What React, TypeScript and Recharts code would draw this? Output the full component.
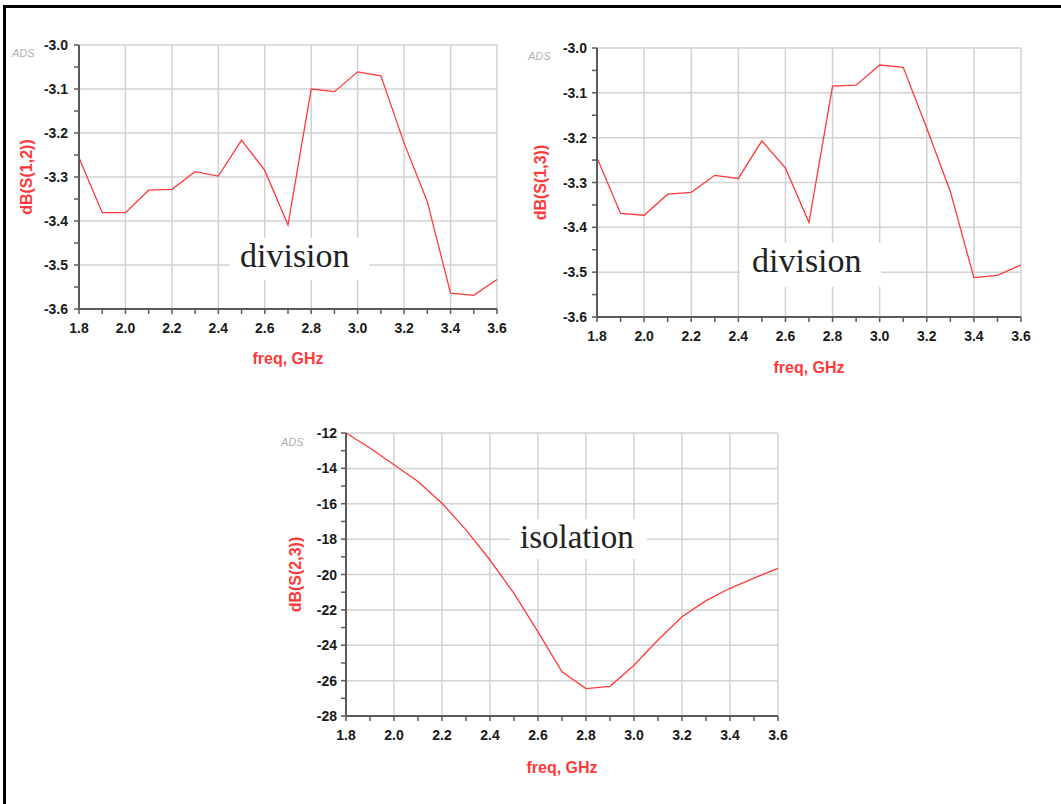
import React from "react";
import {
  LineChart,
  Line,
  XAxis,
  YAxis,
  CartesianGrid,
} from "recharts";

// frequency points, GHz
const freq = [1.8, 1.9, 2.0, 2.1, 2.2, 2.3, 2.4, 2.5, 2.6, 2.7, 2.8, 2.9, 3.0, 3.1, 3.2, 3.3, 3.4, 3.5, 3.6];

// dB(S(1,2))
const s12 = [-3.256, -3.381, -3.381, -3.33, -3.328, -3.288, -3.298, -3.216, -3.285, -3.409, -3.1, -3.106, -3.061, -3.07, -3.223, -3.356, -3.564, -3.569, -3.533];
// dB(S(1,3))
const s13 = [-3.245, -3.369, -3.373, -3.326, -3.322, -3.284, -3.291, -3.207, -3.268, -3.389, -3.085, -3.083, -3.038, -3.043, -3.179, -3.32, -3.512, -3.507, -3.484];
// dB(S(2,3))
const s23 = [-12.0, -12.85, -13.8, -14.74, -15.97, -17.48, -19.18, -21.07, -23.24, -25.5, -26.45, -26.32, -25.13, -23.7, -22.39, -21.48, -20.78, -20.2, -19.65];

const xMajor = [1.8, 2.0, 2.2, 2.4, 2.6, 2.8, 3.0, 3.2, 3.4, 3.6];
const xAll = [1.8, 1.9, 2.0, 2.1, 2.2, 2.3, 2.4, 2.5, 2.6, 2.7, 2.8, 2.9, 3.0, 3.1, 3.2, 3.3, 3.4, 3.5, 3.6];

const yMajorDiv = [-3.6, -3.5, -3.4, -3.3, -3.2, -3.1, -3.0];
const yAllDiv = [-3.6, -3.55, -3.5, -3.45, -3.4, -3.35, -3.3, -3.25, -3.2, -3.15, -3.1, -3.05, -3.0];

const yMajorIso = [-28, -26, -24, -22, -20, -18, -16, -14, -12];
const yAllIso = [-28, -27, -26, -25, -24, -23, -22, -21, -20, -19, -18, -17, -16, -15, -14, -13, -12];

const RED = "#ff3a3a";
const AXIS = "#5a5a5a";
const GRID = "#d2d2d2";
const FONT = "'Liberation Sans', Arial, sans-serif";
const X_DOMAIN: [number, number] = [1.8, 3.6];

const isMajor = (v: number, major: number[]) => major.some((m) => Math.abs(m - v) < 1e-6);

function makeTick(major: number[], fmt: (v: number) => string, axis: "x" | "y") {
  return (props: any) => {
    const { x, y, payload } = props;
    if (!isMajor(payload.value, major)) return <g />;
    return (
      <text
        x={x}
        y={y}
        dy={axis === "x" ? "0.71em" : "0.36em"}
        textAnchor={axis === "x" ? "middle" : "end"}
        fontFamily={FONT}
        fontWeight="bold"
        fontSize={14}
        fill="#1a1a1a"
      >
        {fmt(payload.value)}
      </text>
    );
  };
}

interface PanelProps {
  left: number;
  top: number;
  width: number;
  height: number;
  margin: { top: number; right: number; bottom: number; left: number };
  yWidth: number;
  yTickMargin: number;
  values: number[];
  yLabel: string;
  yLabelOffset: number;
  xLabelOffset: number;
  yDomain: [number, number];
  yMajor: number[];
  yAll: number[];
  yFmt: (v: number) => string;
}

function Panel(p: PanelProps) {
  const data = freq.map((f, i) => ({ f, v: p.values[i] }));

  // grid only on the major ticks
  const vGrid = ({ xAxis, offset }: any) =>
    xMajor.map((v) =>
      typeof xAxis?.scale === "function"
        ? xAxis.scale(v)
        : offset.left + ((v - X_DOMAIN[0]) / (X_DOMAIN[1] - X_DOMAIN[0])) * offset.width
    );
  const hGrid = ({ yAxis, offset }: any) =>
    p.yMajor.map((v) =>
      typeof yAxis?.scale === "function"
        ? yAxis.scale(v)
        : offset.top + ((p.yDomain[1] - v) / (p.yDomain[1] - p.yDomain[0])) * offset.height
    );

  return (
    <div style={{ position: "absolute", left: p.left, top: p.top }}>
      <LineChart width={p.width} height={p.height} data={data} margin={p.margin}>
        <CartesianGrid
          stroke={GRID}
          strokeWidth={1.5}
          verticalCoordinatesGenerator={vGrid}
          horizontalCoordinatesGenerator={hGrid}
        />
        <XAxis
          dataKey="f"
          type="number"
          domain={X_DOMAIN}
          ticks={xAll}
          interval={0}
          height={60}
          tickSize={5}
          tickMargin={9}
          tick={makeTick(xMajor, (v) => v.toFixed(1), "x")}
          tickLine={{ stroke: AXIS, strokeWidth: 1.5 }}
          axisLine={{ stroke: AXIS, strokeWidth: 2 }}
          label={{
            value: "freq, GHz",
            position: "insideBottom",
            offset: p.xLabelOffset,
            fill: RED,
            fontFamily: FONT,
            fontWeight: "bold",
            fontSize: 16,
          }}
        />
        <XAxis
          xAxisId="top"
          orientation="top"
          type="number"
          domain={X_DOMAIN}
          height={0}
          tick={false}
          tickLine={false}
          axisLine={{ stroke: "#9a9a9a", strokeWidth: 2 }}
        />
        <YAxis
          type="number"
          domain={p.yDomain}
          ticks={p.yAll}
          interval={0}
          width={p.yWidth}
          tickSize={5}
          tickMargin={p.yTickMargin}
          tick={makeTick(p.yMajor, p.yFmt, "y")}
          tickLine={{ stroke: AXIS, strokeWidth: 1.5 }}
          axisLine={{ stroke: AXIS, strokeWidth: 2 }}
          label={{
            value: p.yLabel,
            angle: -90,
            position: "insideLeft",
            offset: p.yLabelOffset,
            fill: RED,
            fontFamily: FONT,
            fontWeight: "bold",
            fontSize: 16,
            style: { textAnchor: "middle" },
          }}
        />
        <YAxis
          yAxisId="right"
          orientation="right"
          type="number"
          domain={p.yDomain}
          width={0}
          tick={false}
          tickLine={false}
          axisLine={{ stroke: "#9a9a9a", strokeWidth: 2 }}
        />
        <Line
          type="linear"
          dataKey="v"
          stroke={RED}
          strokeWidth={1.3}
          dot={false}
          isAnimationActive={false}
        />
      </LineChart>
    </div>
  );
}

const adsStyle: React.CSSProperties = {
  position: "absolute",
  fontFamily: FONT,
  fontSize: 11,
  fontStyle: "italic",
  color: "#b0b0b0",
  lineHeight: "11px",
};

const noteStyle: React.CSSProperties = {
  position: "absolute",
  background: "#fff",
  fontFamily: "'Liberation Serif', 'Times New Roman', serif",
  color: "#222",
  lineHeight: "36px",
  whiteSpace: "nowrap",
};

export default function App() {
  return (
    <div
      style={{
        position: "absolute",
        left: 0,
        top: 0,
        width: 1061,
        height: 804,
        background: "#fff",
        overflow: "hidden",
      }}
    >
      <div
        style={{
          position: "absolute",
          left: 3,
          top: 5,
          right: 0,
          bottom: 0,
          borderTop: "3px solid #000",
          borderLeft: "3px solid #000",
        }}
      />

      <Panel
        left={0}
        top={0}
        width={520}
        height={380}
        margin={{ top: 45, right: 23, bottom: 11, left: 0 }}
        yWidth={79}
        yTickMargin={6}
        values={s12}
        yLabel="dB(S(1,2))"
        yLabelOffset={26}
        xLabelOffset={5}
        yDomain={[-3.6, -3.0]}
        yMajor={yMajorDiv}
        yAll={yAllDiv}
        yFmt={(v) => v.toFixed(1)}
      />
      <Panel
        left={520}
        top={0}
        width={541}
        height={390}
        margin={{ top: 48, right: 40, bottom: 13, left: 0 }}
        yWidth={77}
        yTickMargin={5}
        values={s13}
        yLabel="dB(S(1,3))"
        yLabelOffset={20}
        xLabelOffset={4}
        yDomain={[-3.6, -3.0]}
        yMajor={yMajorDiv}
        yAll={yAllDiv}
        yFmt={(v) => v.toFixed(1)}
      />
      <Panel
        left={260}
        top={400}
        width={540}
        height={400}
        margin={{ top: 33, right: 22, bottom: 24, left: 0 }}
        yWidth={86}
        yTickMargin={4}
        values={s23}
        yLabel="dB(S(2,3))"
        yLabelOffset={35}
        xLabelOffset={3}
        yDomain={[-28, -12]}
        yMajor={yMajorIso}
        yAll={yAllIso}
        yFmt={(v) => v.toFixed(0)}
      />

      <div style={{ ...adsStyle, left: 12, top: 48 }}>ADS</div>
      <div style={{ ...adsStyle, left: 528, top: 51 }}>ADS</div>
      <div style={{ ...adsStyle, left: 281, top: 437 }}>ADS</div>

      <div style={{ ...noteStyle, left: 230, top: 238, width: 129, height: 42, paddingLeft: 10, fontSize: 34 }}>
        division
      </div>
      <div style={{ ...noteStyle, left: 740, top: 243, width: 129, height: 44, paddingLeft: 12, fontSize: 34 }}>
        division
      </div>
      <div style={{ ...noteStyle, left: 510, top: 519, width: 127, height: 40, paddingLeft: 10, fontSize: 33 }}>
        isolation
      </div>
    </div>
  );
}
